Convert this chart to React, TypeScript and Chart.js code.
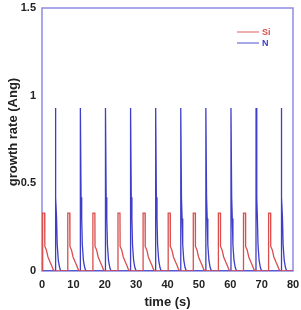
import { useEffect, useRef } from "react";
import { Chart, registerables } from "chart.js";

Chart.register(...registerables);

// Si pulse: time (s) and growth rate (Ang)
const siTime = [
  0,
  0.2, 0.22, 0.85, 0.9, 1.4, 1.9, 2.6, 3.1, 3.5, 3.9,
  8.2, 8.22, 8.85, 8.9, 9.4, 9.9, 10.6, 11.1, 11.5, 11.9,
  16.2, 16.22, 16.85, 16.9, 17.4, 17.9, 18.6, 19.1, 19.5, 19.9,
  24.2, 24.22, 24.85, 24.9, 25.4, 25.9, 26.6, 27.1, 27.5, 27.9,
  32.2, 32.22, 32.85, 32.9, 33.4, 33.9, 34.6, 35.1, 35.5, 35.9,
  40.2, 40.22, 40.85, 40.9, 41.4, 41.9, 42.6, 43.1, 43.5, 43.9,
  48.2, 48.22, 48.85, 48.9, 49.4, 49.9, 50.6, 51.1, 51.5, 51.9,
  56.2, 56.22, 56.85, 56.9, 57.4, 57.9, 58.6, 59.1, 59.5, 59.9,
  64.2, 64.22, 64.85, 64.9, 65.4, 65.9, 66.6, 67.1, 67.5, 67.9,
  72.2, 72.22, 72.85, 72.9, 73.4, 73.9, 74.6, 75.1, 75.5, 75.9,
  80,
];
const siRate = [
  0,
  0, 0.33, 0.33, 0.14, 0.12, 0.08, 0.05, 0.03, 0.01, 0,
  0, 0.33, 0.33, 0.14, 0.12, 0.08, 0.05, 0.03, 0.01, 0,
  0, 0.33, 0.33, 0.14, 0.12, 0.08, 0.05, 0.03, 0.01, 0,
  0, 0.33, 0.33, 0.14, 0.12, 0.08, 0.05, 0.03, 0.01, 0,
  0, 0.33, 0.33, 0.14, 0.12, 0.08, 0.05, 0.03, 0.01, 0,
  0, 0.33, 0.33, 0.14, 0.12, 0.08, 0.05, 0.03, 0.01, 0,
  0, 0.33, 0.33, 0.14, 0.12, 0.08, 0.05, 0.03, 0.01, 0,
  0, 0.33, 0.33, 0.14, 0.12, 0.08, 0.05, 0.03, 0.01, 0,
  0, 0.33, 0.33, 0.14, 0.12, 0.08, 0.05, 0.03, 0.01, 0,
  0, 0.33, 0.33, 0.14, 0.12, 0.08, 0.05, 0.03, 0.01, 0,
  0,
];

// N pulse: time (s) and growth rate (Ang)
const nTime = [
  0,
  4.2, 4.23, 4.45, 4.65, 4.85, 5.2, 5.6, 6.0,
  12.2, 12.23, 12.45, 12.65, 12.85, 13.2, 13.6, 14.0,
  20.2, 20.23, 20.45, 20.65, 20.85, 21.2, 21.6, 22.0,
  28.2, 28.23, 28.45, 28.65, 28.85, 29.2, 29.6, 30.0,
  36.2, 36.23, 36.45, 36.65, 36.85, 37.2, 37.6, 38.0,
  44.2, 44.23, 44.45, 44.65, 44.85, 45.2, 45.6, 46.0,
  52.2, 52.23, 52.45, 52.65, 52.85, 53.2, 53.6, 54.0,
  60.2, 60.23, 60.45, 60.65, 60.85, 61.2, 61.6, 62.0,
  68.2, 68.23, 68.45, 68.65, 68.85, 69.2, 69.6, 70.0,
  76.2, 76.23, 76.45, 76.65, 76.85, 77.2, 77.6, 78.0,
  80,
];
const nRate = [
  0,
  0, 0.93, 0.42, 0.3, 0.15, 0.06, 0.02, 0,
  0, 0.93, 0.42, 0.3, 0.15, 0.06, 0.02, 0,
  0, 0.93, 0.42, 0.3, 0.15, 0.06, 0.02, 0,
  0, 0.93, 0.42, 0.3, 0.15, 0.06, 0.02, 0,
  0, 0.93, 0.42, 0.3, 0.15, 0.06, 0.02, 0,
  0, 0.93, 0.42, 0.3, 0.15, 0.06, 0.02, 0,
  0, 0.93, 0.42, 0.3, 0.15, 0.06, 0.02, 0,
  0, 0.93, 0.42, 0.3, 0.15, 0.06, 0.02, 0,
  0, 0.93, 0.42, 0.3, 0.15, 0.06, 0.02, 0,
  0, 0.93, 0.42, 0.3, 0.15, 0.06, 0.02, 0,
  0,
];

const seriesNames = ["Si", "N"];
const xTitle = "time (s)";
const yTitle = "growth rate (Ang)";

const RED = "rgb(218, 78, 78)";
const BLUE = "rgb(62, 62, 200)";
const FRAME = "rgb(140, 140, 228)";
const FONT = "'Liberation Sans', Arial, sans-serif";

const framePlugin = {
  id: "frameAndLegend",
  beforeDatasetsDraw(chart: any) {
    const { ctx, chartArea } = chart;
    const { left, top, right, bottom } = chartArea;
    ctx.save();
    ctx.strokeStyle = FRAME;
    ctx.lineWidth = 1.5;
    ctx.strokeRect(left, top, right - left, bottom - top);
    ctx.restore();
  },
  afterDraw(chart: any) {
    const { ctx, chartArea } = chart;
    ctx.save();
    // legend inside the plot, top right
    const colors = [RED, BLUE];
    const lx0 = chartArea.right - 56;
    const lx1 = chartArea.right - 34;
    seriesNames.forEach((name, i) => {
      const y = chartArea.top + 24 + i * 11;
      ctx.strokeStyle = colors[i];
      ctx.globalAlpha = 0.75;
      ctx.lineWidth = 1.2;
      ctx.beginPath();
      ctx.moveTo(lx0, y);
      ctx.lineTo(lx1, y);
      ctx.stroke();
      ctx.globalAlpha = 1;
      ctx.fillStyle = colors[i];
      ctx.font = `bold 9px ${FONT}`;
      ctx.textBaseline = "middle";
      ctx.textAlign = "left";
      ctx.fillText(name, lx1 + 3, y + 0.5);
    });
    // vertical axis title
    ctx.translate(13, 132);
    ctx.rotate(-Math.PI / 2);
    ctx.fillStyle = "#222";
    ctx.font = `bold 13px ${FONT}`;
    ctx.textAlign = "center";
    ctx.textBaseline = "middle";
    ctx.fillText(yTitle, 0, 0);
    ctx.restore();
  },
};

export default function App() {
  const ref = useRef<HTMLCanvasElement>(null);

  useEffect(() => {
    document.body.style.margin = "0";
    const canvas = ref.current;
    if (!canvas) return;
    const chart = new Chart(canvas, {
      type: "line",
      data: {
        datasets: [
          {
            label: seriesNames[0],
            data: siTime.map((x, i) => ({ x, y: siRate[i] })),
            borderColor: RED,
            borderWidth: 1.3,
            pointRadius: 0,
            tension: 0,
          },
          {
            label: seriesNames[1],
            data: nTime.map((x, i) => ({ x, y: nRate[i] })),
            borderColor: BLUE,
            borderWidth: 1.3,
            pointRadius: 0,
            tension: 0,
          },
        ],
      },
      options: {
        responsive: false,
        animation: false,
        devicePixelRatio: 1,
        layout: { padding: { left: 0, right: 8, top: 8, bottom: 0 } },
        plugins: {
          legend: { display: false },
          tooltip: { enabled: false },
        },
        scales: {
          x: {
            type: "linear",
            min: 0,
            max: 80,
            grid: { display: false, drawTicks: false },
            border: { display: false },
            ticks: {
              stepSize: 10,
              padding: 7,
              color: "#222",
              font: { family: FONT, size: 11, weight: "bold" },
            },
            title: {
              display: true,
              text: xTitle,
              color: "#222",
              font: { family: FONT, size: 13, weight: "bold" },
              padding: { top: 2, bottom: 0 },
            },
            afterFit(scale: any) {
              scale.height = 39;
              scale.paddingLeft = 0;
              scale.paddingRight = 0;
            },
          },
          y: {
            type: "linear",
            min: 0,
            max: 1.5,
            grid: { display: false, drawTicks: false },
            border: { display: false },
            ticks: {
              stepSize: 0.5,
              padding: 6,
              color: "#222",
              font: { family: FONT, size: 11, weight: "bold" },
              callback: (v: any) => String(Number(v)),
            },
            afterFit(scale: any) {
              scale.width = 42;
              scale.paddingTop = 0;
              scale.paddingBottom = 0;
            },
          },
        },
      },
      plugins: [framePlugin],
    });
    return () => chart.destroy();
  }, []);

  return (
    <div style={{ width: 301, height: 310, background: "#fff" }}>
      <canvas ref={ref} width={301} height={310} style={{ width: 301, height: 310 }} />
    </div>
  );
}
